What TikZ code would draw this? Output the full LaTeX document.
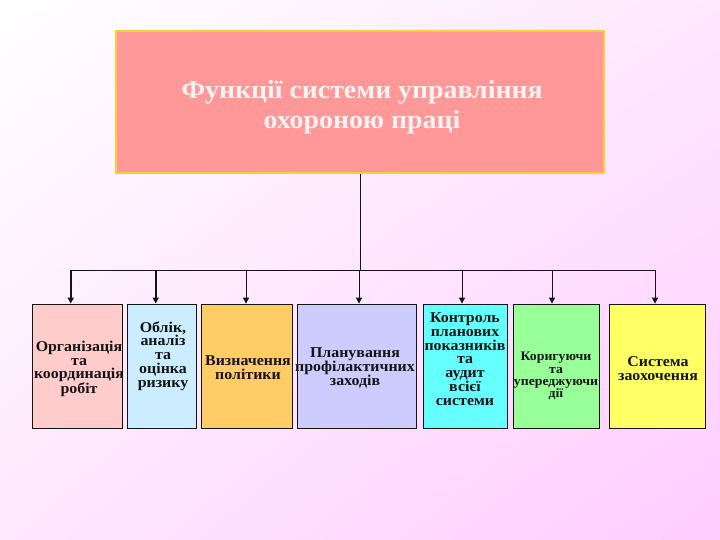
\documentclass[tikz,border=0pt]{standalone}
\usepackage{fontspec}
\setmainfont{Liberation Serif}
\newfontfamily\widefont[FakeStretch=1.06]{Liberation Serif}
\newfontfamily\titlefont[FakeStretch=1.07]{Liberation Serif}
\usetikzlibrary{arrows.meta,shadings}
\definecolor{bgA}{RGB}{255,255,255}
\definecolor{bgB}{RGB}{254,232,254}
\definecolor{bgC}{RGB}{255,204,255}
\definecolor{titlefill}{RGB}{255,153,153}
\definecolor{titleline}{RGB}{255,204,51}
\definecolor{titletext}{RGB}{255,242,242}
\definecolor{cA}{RGB}{255,204,204}
\definecolor{cB}{RGB}{204,236,255}
\definecolor{cC}{RGB}{255,204,102}
\definecolor{cD}{RGB}{204,204,255}
\definecolor{cE}{RGB}{102,255,255}
\definecolor{cF}{RGB}{153,255,153}
\definecolor{cG}{RGB}{255,255,102}
\definecolor{ink}{RGB}{20,20,20}
\tikzset{
  box/.style={draw=ink, line width=0.8pt, rectangle, inner sep=0pt, minimum height=124pt},
  txt/.style={font=\widefont\fontsize{15}{13.8}\selectfont\bfseries, text=ink, align=center, inner sep=0pt},
  stxt/.style={font=\widefont\fontsize{13}{12.2}\selectfont\bfseries, text=ink, align=center, inner sep=0pt},
  conn/.style={draw=ink, line width=1pt},
  arr/.style={draw=ink, line width=1pt, -{Triangle[length=6pt,width=6pt]}},
  arrb/.style={draw=ink, line width=1.8pt, -{Triangle[length=6pt,width=6pt]}}
}
\begin{document}
\begin{tikzpicture}[x=1pt,y=-1pt]
\useasboundingbox (0,0) rectangle (720,540);
\shade[upper left=bgA, upper right=bgB, lower left=bgB, lower right=bgC] (0,0) rectangle (720,540);

\node[draw=titleline, fill=titlefill, line width=1.5pt, minimum width=488pt, minimum height=142pt, inner sep=0pt] (top) at (360,102) {};
\node[font=\titlefont\fontsize{26}{30}\selectfont\bfseries, text=titletext, align=center] (title) at (362,107) {Функції системи управління\\охороною праці};

\node[box, fill=cA, minimum width=90pt] (b1) at (77,366) {};
\node[box, fill=cB, minimum width=69pt] (b2) at (161.5,366) {};
\node[box, fill=cC, minimum width=91pt] (b3) at (246.5,366) {};
\node[box, fill=cD, minimum width=119pt] (b4) at (356.5,366) {};
\node[box, fill=cE, minimum width=84pt] (b5) at (465,366) {};
\node[box, fill=cF, minimum width=86pt] (b6) at (556,366) {};
\node[box, fill=cG, minimum width=96pt] (b7) at (657,366) {};

\node[txt] (l1) at (79,369) {Організація\\та\\координація\\робіт};
\node[txt] (l2) at (163,356) {Облік,\\аналіз\\та\\оцінка\\ризику};
\node[txt] (l3) at (248,368) {Визначення\\політики};
\node[txt] (l4) at (355,368) {Планування\\профілактичних\\заходів};
\node[txt] (l5) at (465,359) {Контроль\\планових\\показників\\та\\аудит\\всієї\\системи};
\node[stxt] (l6) at (556,376) {Коригуючи\\та\\упереджуючи\\дії};
\node[txt] (l7) at (658,369) {Система\\заохочення};

\coordinate (hub) at (360,270);
\coordinate (h1) at (70.7,270);
\coordinate (h2) at (155.7,270);
\coordinate (h3) at (246,270);
\coordinate (h4) at (359,270);
\coordinate (h5) at (462,270);
\coordinate (h6) at (552,270);
\coordinate (h7) at (655,270);

\draw[conn] (top.south -| hub) -- (hub);
\draw[conn] (h1) -- (h7);
\draw[arrb] (h1) -- (h1 |- b1.north);
\draw[arrb] (h2) -- (h2 |- b2.north);
\draw[arr] (h3) -- (h3 |- b3.north);
\draw[arr] (h4) -- (h4 |- b4.north);
\draw[arr] (h5) -- (h5 |- b5.north);
\draw[arr] (h6) -- (h6 |- b6.north);
\draw[arr] (h7) -- (h7 |- b7.north);
\end{tikzpicture}
\end{document}
